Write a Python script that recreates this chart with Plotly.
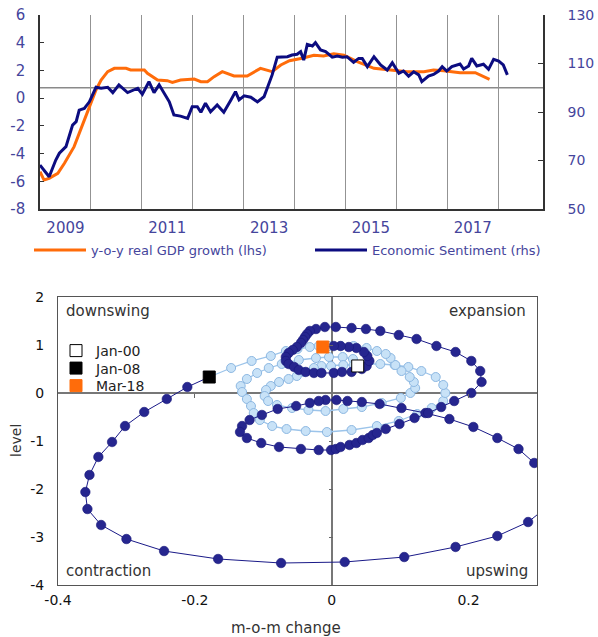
import plotly.graph_objects as go

# ---------------- Top panel data ----------------
gdp_t = [2009.00, 2009.08, 2009.18, 2009.35, 2009.48, 2009.57, 2009.67, 2009.77, 2009.87,
         2010.00, 2010.10, 2010.20, 2010.33, 2010.46, 2010.69, 2010.78, 2011.05, 2011.11,
         2011.31, 2011.50, 2011.60, 2011.76, 2012.03, 2012.16, 2012.29, 2012.42, 2012.58,
         2012.81, 2013.07, 2013.33, 2013.56, 2013.73, 2013.90, 2014.15, 2014.38, 2014.57,
         2014.77, 2014.97, 2015.23, 2015.56, 2015.88, 2016.21, 2016.54, 2016.73, 2016.93,
         2017.25, 2017.55, 2017.71, 2017.83]
gdp_yoy = [-5.31, -5.91, -5.79, -5.43, -4.70, -4.10, -3.50, -2.54, -1.58,
           -0.26, 0.59, 1.31, 1.91, 2.15, 2.15, 2.03, 2.03, 1.79,
           1.31, 1.26, 1.14, 1.31, 1.38, 1.19, 1.19, 1.55, 1.91,
           1.60, 1.60, 2.15, 1.91, 2.39, 2.70, 2.88, 3.10, 3.05,
           3.20, 3.10, 2.63, 2.15, 2.03, 1.91, 1.91, 2.03, 1.98,
           1.84, 1.84, 1.55, 1.36]

esi_t = [2009.00, 2009.18, 2009.31, 2009.38, 2009.51, 2009.64, 2009.71, 2009.77, 2009.87, 2009.97,
         2010.10, 2010.20, 2010.33, 2010.43, 2010.55, 2010.72, 2010.92, 2011.01, 2011.14, 2011.24,
         2011.34, 2011.47, 2011.54, 2011.63, 2011.76, 2011.90, 2011.99, 2012.09, 2012.16, 2012.25,
         2012.35, 2012.48, 2012.61, 2012.75, 2012.84, 2012.91, 2013.01, 2013.14, 2013.27, 2013.40,
         2013.50, 2013.56, 2013.66, 2013.86, 2013.95, 2014.05, 2014.12, 2014.18, 2014.25, 2014.35,
         2014.41, 2014.51, 2014.61, 2014.74, 2014.84, 2014.94, 2015.03, 2015.16, 2015.26, 2015.33,
         2015.43, 2015.56, 2015.69, 2015.82, 2015.92, 2016.05, 2016.14, 2016.24, 2016.34, 2016.44,
         2016.50, 2016.63, 2016.73, 2016.83, 2016.90, 2016.99, 2017.09, 2017.25, 2017.32, 2017.42,
         2017.48, 2017.58, 2017.71, 2017.81, 2017.91, 2018.01, 2018.10, 2018.18]
esi = [68.1, 63.3, 70.2, 73.0, 75.7, 84.6, 86.0, 90.8, 91.5, 94.2,
       100.2, 99.8, 100.2, 98.0, 101.2, 98.0, 99.8, 97.3, 102.5, 98.0,
       101.2, 97.0, 94.2, 88.8, 88.3, 87.4, 92.2, 92.2, 89.9, 93.6,
       90.1, 92.9, 89.9, 95.0, 98.4, 95.0, 96.7, 96.1, 94.2, 96.3,
       102.5, 105.3, 112.6, 112.8, 113.5, 113.8, 114.9, 111.4, 117.9, 117.2,
       118.6, 115.6, 114.9, 112.6, 113.1, 112.6, 112.8, 110.5, 112.1, 112.1,
       108.7, 112.8, 109.4, 107.3, 110.3, 106.0, 106.9, 104.8, 106.6, 105.3,
       102.5, 104.8, 105.5, 106.9, 108.7, 106.9, 108.7, 109.8, 107.7, 109.0,
       112.1, 109.0, 109.7, 107.6, 111.7, 111.0, 109.4, 105.3]
esi_average = 100

year_label_pos = [2009.5, 2011.5, 2013.5, 2015.5, 2017.5]
year_labels = ["2009", "2011", "2013", "2015", "2017"]
year_grid = [2010, 2011, 2012, 2013, 2014, 2015, 2016, 2017, 2018]
lhs_ticks = [-8, -6, -4, -2, 0, 2, 4, 6]
rhs_ticks = [50, 70, 90, 110, 130]

# ---------------- Bottom panel (cycle clock) data ----------------
# 2000-2007 (light blue), m-o-m change (x) and level (y)
light_x = [0.038, 0.031, 0.016, -0.004, -0.023, -0.048, -0.073, -0.092, -0.109, -0.124,
           -0.133, -0.131, -0.124, -0.118, -0.114, -0.105, -0.087, -0.066, -0.038, -0.007,
           0.029, 0.066, 0.098, 0.125, 0.146, 0.163, 0.166, 0.163, 0.152, 0.131,
           0.112, 0.092, 0.071, 0.051, 0.032, 0.017, -0.001, -0.015, -0.026, -0.041,
           -0.051, -0.063, -0.077, -0.089, -0.096, -0.098, -0.093, -0.080, -0.058, -0.034,
           -0.009, 0.017, 0.044, 0.073, 0.101, 0.115, 0.122, 0.120, 0.114, 0.102,
           0.093, 0.086, 0.079, 0.066, 0.051, 0.032, 0.013, -0.004, -0.019, -0.032,
           -0.050, -0.067, -0.089, -0.117, -0.147]
light_y = [0.563, 0.708, 0.750, 0.750, 0.729, 0.688, 0.604, 0.521, 0.417, 0.292,
           0.146, 0.021, -0.125, -0.271, -0.417, -0.563, -0.688, -0.750, -0.792, -0.813,
           -0.771, -0.688, -0.583, -0.438, -0.313, -0.167, 0.000, 0.167, 0.333, 0.458,
           0.542, 0.583, 0.604, 0.604, 0.583, 0.583, 0.563, 0.563, 0.521, 0.438,
           0.354, 0.292, 0.229, 0.146, 0.063, -0.063, -0.167, -0.250, -0.313, -0.354,
           -0.375, -0.333, -0.292, -0.208, -0.104, 0.000, 0.104, 0.229, 0.333, 0.458,
           0.583, 0.729, 0.813, 0.875, 0.938, 0.979, 0.979, 0.979, 0.979, 0.958,
           0.917, 0.875, 0.771, 0.667, 0.521]

# 2008-2018 (dark blue); first point Jan-08, last point Mar-18
dark_x = [-0.179, -0.211, -0.241, -0.274, -0.302, -0.321, -0.341, -0.354, -0.360, -0.357,
          -0.337, -0.300, -0.245, -0.166, -0.074, 0.019, 0.106, 0.181, 0.242, 0.287,
          0.315, 0.335, 0.325, 0.296, 0.273, 0.242, 0.207, 0.172, 0.137, 0.102,
          0.070, 0.044, 0.023, 0.007, -0.009, -0.019, -0.032, -0.052, -0.079, -0.102,
          -0.120, -0.131, -0.134, -0.124, -0.103, -0.077, -0.045, -0.019, -0.001, 0.006,
          0.013, 0.026, 0.036, 0.045, 0.054, 0.060, 0.066, 0.079, 0.099, 0.121,
          0.141, 0.160, 0.179, 0.204, 0.219, 0.217, 0.204, 0.181, 0.153, 0.124,
          0.098, 0.071, 0.050, 0.029, 0.006, -0.010, -0.023, -0.032, -0.036, -0.039,
          -0.042, -0.045, -0.051, -0.057, -0.063, -0.067, -0.067, -0.063, -0.055, -0.048,
          -0.038, -0.026, -0.015, 0.003, 0.015, 0.029, 0.044, 0.051, 0.055, 0.052,
          0.047, 0.036, 0.025, 0.013, 0.003, -0.013]
dark_y = [0.333, 0.125, -0.125, -0.396, -0.688, -1.021, -1.333, -1.708, -2.063, -2.417,
          -2.750, -3.042, -3.292, -3.458, -3.542, -3.521, -3.417, -3.208, -2.979, -2.688,
          -2.370, -2.040, -1.730, -1.458, -1.167, -0.938, -0.708, -0.542, -0.417, -0.313,
          -0.229, -0.188, -0.167, -0.146, -0.146, -0.167, -0.208, -0.271, -0.333, -0.458,
          -0.563, -0.688, -0.813, -0.938, -1.042, -1.125, -1.167, -1.188, -1.188, -1.167,
          -1.125, -1.083, -1.042, -0.979, -0.938, -0.875, -0.833, -0.750, -0.646, -0.521,
          -0.417, -0.292, -0.167, 0.000, 0.229, 0.458, 0.667, 0.854, 0.979, 1.125,
          1.208, 1.292, 1.333, 1.354, 1.375, 1.375, 1.333, 1.292, 1.229, 1.167,
          1.104, 1.042, 0.958, 0.896, 0.833, 0.750, 0.667, 0.604, 0.542, 0.479,
          0.438, 0.417, 0.417, 0.417, 0.438, 0.438, 0.500, 0.563, 0.667, 0.771,
          0.854, 0.938, 0.958, 0.979, 0.979, 0.958]

highlight_names = ["Jan-00", "Jan-08", "Mar-18"]
quadrant_labels = ["downswing", "expansion", "contraction", "upswing"]
clock_x_ticks = [-0.4, -0.2, 0, 0.2]
clock_y_ticks = [-4, -3, -2, -1, 0, 1, 2]

# ---------------- Styling ----------------
W, H = 598, 637
ORANGE = "#FF6C0A"
NAVY = "#0C0C80"
DOT_DARK = "#26268F"
LIGHT_FILL = "#C8E2F7"
LIGHT_EDGE = "#8DB8E2"
TOP_TXT = "#45459C"
FONT = "DejaVu Sans"

def fmt(v):
    return "%g" % v

fig = go.Figure()

# top panel
fig.add_trace(go.Scatter(x=gdp_t, y=gdp_yoy, mode="lines", name="y-o-y real GDP growth (lhs)",
                         line=dict(color=ORANGE, width=3), xaxis="x", yaxis="y", legend="legend"))
fig.add_trace(go.Scatter(x=esi_t, y=esi, mode="lines", name="Economic Sentiment (rhs)",
                         line=dict(color=NAVY, width=3), xaxis="x", yaxis="y2", legend="legend"))

# bottom panel
fig.add_trace(go.Scatter(x=light_x + [dark_x[0]], y=light_y + [dark_y[0]], mode="lines+markers",
                         line=dict(color="#9CC4EA", width=1.3),
                         marker=dict(size=9, color=LIGHT_FILL, line=dict(color=LIGHT_EDGE, width=1)),
                         showlegend=False, xaxis="x2", yaxis="y3", hoverinfo="skip"))
fig.add_trace(go.Scatter(x=dark_x, y=dark_y, mode="lines+markers",
                         line=dict(color="#1A1A88", width=1),
                         marker=dict(size=9.5, color=DOT_DARK, line=dict(color="#17177A", width=0.6)),
                         showlegend=False, xaxis="x2", yaxis="y3", hoverinfo="skip"))

hl_x = [light_x[0], dark_x[0], dark_x[-1]]
hl_y = [light_y[0], dark_y[0], dark_y[-1]]
hl_fill = ["white", "black", ORANGE]
hl_edge = ["black", "black", ORANGE]
hl_legend = ["legend2", "legend3", "legend4"]
for i in range(3):
    fig.add_trace(go.Scatter(x=[hl_x[i]], y=[hl_y[i]], mode="markers", name=highlight_names[i],
                             marker=dict(symbol="square", size=12, color=hl_fill[i],
                                         line=dict(color=hl_edge[i], width=1)),
                             xaxis="x2", yaxis="y3", legend=hl_legend[i]))

# dummy trace for the zero-line tick axes
fig.add_trace(go.Scatter(x=[None], y=[None], xaxis="x3", yaxis="y4", showlegend=False,
                         hoverinfo="skip"))

top_dom = [1 - 209 / H, 1 - 15 / H]
bot_dom = [1 - 585 / H, 1 - 297 / H]

small_leg = dict(xanchor="left", yanchor="middle", font=dict(family=FONT, size=14, color="#222"),
                 bgcolor="rgba(0,0,0,0)")

fig.update_layout(
    width=W, height=H, margin=dict(l=0, r=0, t=0, b=0, autoexpand=False),
    paper_bgcolor="white", plot_bgcolor="white",
    font=dict(family=FONT, size=13, color="#333333"),
    xaxis=dict(domain=[40 / W, 543 / W], anchor="y", range=[2009.0, 2018.88], automargin=False,
               tickmode="array", tickvals=year_label_pos, ticktext=year_labels,
               showgrid=False, zeroline=False, showline=True, linecolor="#333", linewidth=1.5,
               ticks="", tickfont=dict(family=FONT, size=15, color=TOP_TXT), ticklabelstandoff=4,
               minor=dict(tickmode="array", tickvals=year_grid, showgrid=True,
                          gridcolor="#939393", gridwidth=1.2, ticks="")),
    yaxis=dict(domain=top_dom, anchor="x", range=[-8, 6], tickmode="array", automargin=False,
               tickvals=lhs_ticks, ticktext=[fmt(v) for v in lhs_ticks],
               showgrid=False, zeroline=False, showline=True, linecolor="#333", linewidth=1.5,
               ticks="inside", ticklen=4, tickcolor="#333",
               tickfont=dict(family=FONT, size=15, color=TOP_TXT), ticklabelstandoff=10),
    yaxis2=dict(overlaying="y", side="right", anchor="x", range=[50, 130], tickmode="array",
                tickvals=rhs_ticks, ticktext=[fmt(v) for v in rhs_ticks], automargin=False,
                showgrid=False, zeroline=False, showline=True, linecolor="#333", linewidth=1.5,
                ticks="inside", ticklen=5, tickcolor="#333",
                tickfont=dict(family=FONT, size=14, color=TOP_TXT), ticklabelstandoff=20),
    xaxis2=dict(domain=[58 / W, 537 / W], anchor="y3", range=[-0.4, 0.3], tickmode="array",
                tickvals=clock_x_ticks, ticktext=[fmt(v) for v in clock_x_ticks], automargin=False,
                showgrid=False, zeroline=True, zerolinecolor="#777", zerolinewidth=1.5,
                showline=True, mirror=True, linecolor="#555", linewidth=1.2, ticks="",
                tickfont=dict(family=FONT, size=14, color="#111"), ticklabelstandoff=2),
    yaxis3=dict(domain=bot_dom, anchor="x2", range=[-4, 2], tickmode="array", automargin=False,
                tickvals=clock_y_ticks, ticktext=[fmt(v) for v in clock_y_ticks],
                showgrid=False, zeroline=True, zerolinecolor="#777", zerolinewidth=1.5,
                showline=True, mirror=True, linecolor="#555", linewidth=1.2, ticks="",
                tickfont=dict(family=FONT, size=14, color="#111"), ticklabelstandoff=10),
    xaxis3=dict(overlaying="x2", anchor="free", position=1 - 393 / H, range=[-0.4, 0.3],
                tickmode="array", tickvals=[-0.2, 0.2], ticks="outside", ticklen=4, automargin=False,
                tickcolor="#666", showticklabels=False, showline=False, showgrid=False,
                zeroline=False),
    yaxis4=dict(overlaying="y3", anchor="free", position=333 / W, side="left", range=[-4, 2],
                tickmode="array", tickvals=[-3, -2, -1, 1], ticks="outside", ticklen=4,
                automargin=False, tickcolor="#666", showticklabels=False, showline=False,
                showgrid=False, zeroline=False),
    legend=dict(orientation="h", x=29 / W, y=1 - 250 / H, xanchor="left", yanchor="middle",
                font=dict(family=FONT, size=13, color=TOP_TXT), bgcolor="rgba(0,0,0,0)",
                entrywidth=214, entrywidthmode="pixels", itemwidth=52),
    legend2=dict(x=56 / W, y=1 - 351 / H, **small_leg),
    legend3=dict(x=56 / W, y=1 - 368.5 / H, **small_leg),
    legend4=dict(x=56 / W, y=1 - 386 / H, **small_leg),
    showlegend=True,
)

# long-run average of sentiment (reference line)
fig.add_shape(type="line", xref="x domain", x0=0, x1=1, yref="y2", y0=esi_average, y1=esi_average,
              line=dict(color="#8a8a8a", width=1.5), layer="below")

# quadrant labels
qpos = [(0.012, 0.988, "left", "top"), (0.982, 0.988, "right", "top"),
        (0.012, 0.012, "left", "bottom"), (0.985, 0.012, "right", "bottom")]
for lab, (qx, qy, xa, ya) in zip(quadrant_labels, qpos):
    fig.add_annotation(text=lab, xref="x2 domain", yref="y3 domain", x=qx, y=qy,
                       xanchor=xa, yanchor=ya, showarrow=False,
                       font=dict(family=FONT, size=15, color="#333"))

fig.add_annotation(text="level", xref="paper", yref="paper", x=16 / W, y=1 - 441 / H,
                   xanchor="center", yanchor="middle",
                   textangle=-90, showarrow=False, font=dict(family=FONT, size=14, color="#333"))
fig.add_annotation(text="m-o-m change", xref="paper", yref="paper", x=286 / W, y=1 - 628 / H,
                   xanchor="center", yanchor="middle",
                   showarrow=False, font=dict(family=FONT, size=15, color="#333"))

fig.write_html("out.html", config={"displayModeBar": False},
               post_script="document.body.style.margin='0px';")
